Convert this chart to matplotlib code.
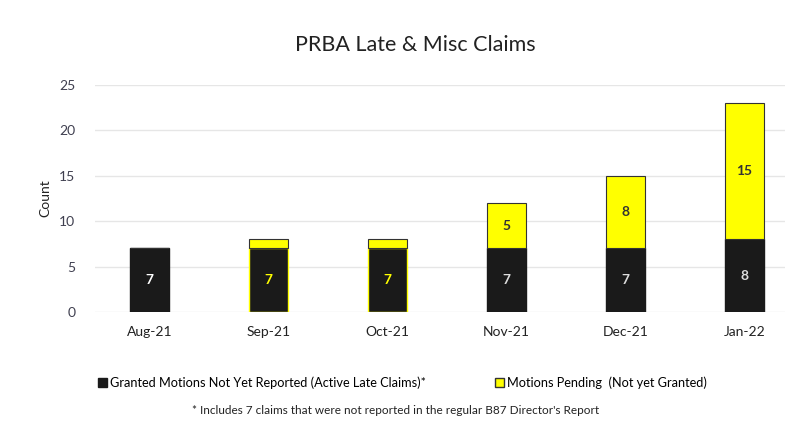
import numpy as np
import matplotlib.pyplot as plt
from matplotlib.patches import Patch

months = ['Aug-21', 'Sep-21', 'Oct-21', 'Nov-21', 'Dec-21', 'Jan-22']
granted = [7, 7, 7, 7, 7, 8]
pending = [0, 1, 1, 5, 8, 15]
granted_labels = ['7', '7', '7', '7', '7', '8']
pending_labels = ['', '', '', '5', '8', '15']

plt.rcParams['font.family'] = ['Lato', 'DejaVu Sans']

black = '#1a1a1a'
yellow = '#ffff00'
tick_color = '#404050'

fig = plt.figure(figsize=(7.91, 4.34), dpi=100)
ax = fig.add_axes([0.12, 0.281, 0.872, 0.523])

x = np.arange(len(months))
w = 0.33
gran_edges = [black, yellow, yellow, black, black, black]
ax.bar(x, granted, w, color=black, edgecolor=gran_edges, linewidth=1.0, zorder=3)
ax.bar(x, pending, w, bottom=granted, color=yellow, edgecolor='#333333',
       linewidth=0.8, zorder=3)

gran_text_colors = ['white', yellow, yellow, '#dddddd', '#dddddd', '#dddddd']
for i in range(len(months)):
    ax.text(x[i], granted[i] / 2, granted_labels[i], ha='center', va='center',
            color=gran_text_colors[i], fontsize=10, fontweight='bold', zorder=4)
    if pending_labels[i]:
        ax.text(x[i], granted[i] + pending[i] / 2, pending_labels[i], ha='center',
                va='center', color='#333333', fontsize=10, fontweight='bold', zorder=4)

ax.set_ylim(0, 25)
ax.set_xlim(-0.46, 5.34)
ax.set_yticks(range(0, 26, 5))
ax.set_xticks(x)
ax.set_xticklabels(months)
ax.tick_params(axis='both', length=0, colors=tick_color, labelsize=10)
ax.tick_params(axis='x', pad=10, colors='#222222')
ax.tick_params(axis='y', pad=14)
ax.yaxis.grid(True, color='#e6e6e6', linewidth=1, zorder=0)
for s in ax.spines.values():
    s.set_visible(False)
ax.set_ylabel('Count', fontsize=10, color='#222222', labelpad=6)

fig.text(0.525, 0.896, 'PRBA Late & Misc Claims', ha='center', va='center',
         fontsize=15.5, color='#222222')

leg_kw = dict(frameon=False, fontsize=9.2, handlelength=0.7, handleheight=0.7,
              handletextpad=0.2, borderpad=0, borderaxespad=0)
leg1 = fig.legend([Patch(facecolor=black, edgecolor=black)],
                  ['Granted Motions Not Yet Reported (Active Late Claims)*'],
                  loc='center left', bbox_to_anchor=(0.124, 0.118), **leg_kw)
fig.legend([Patch(facecolor=yellow, edgecolor='#333333')],
           ['Motions Pending  (Not yet Granted)'],
           loc='center left', bbox_to_anchor=(0.626, 0.118), **leg_kw)

fig.text(0.5, 0.055, "* Includes 7 claims that were not reported in the regular B87 Director's Report",
         ha='center', va='center', fontsize=8.5, color='#222222')

fig.savefig('out.png', dpi=100)
